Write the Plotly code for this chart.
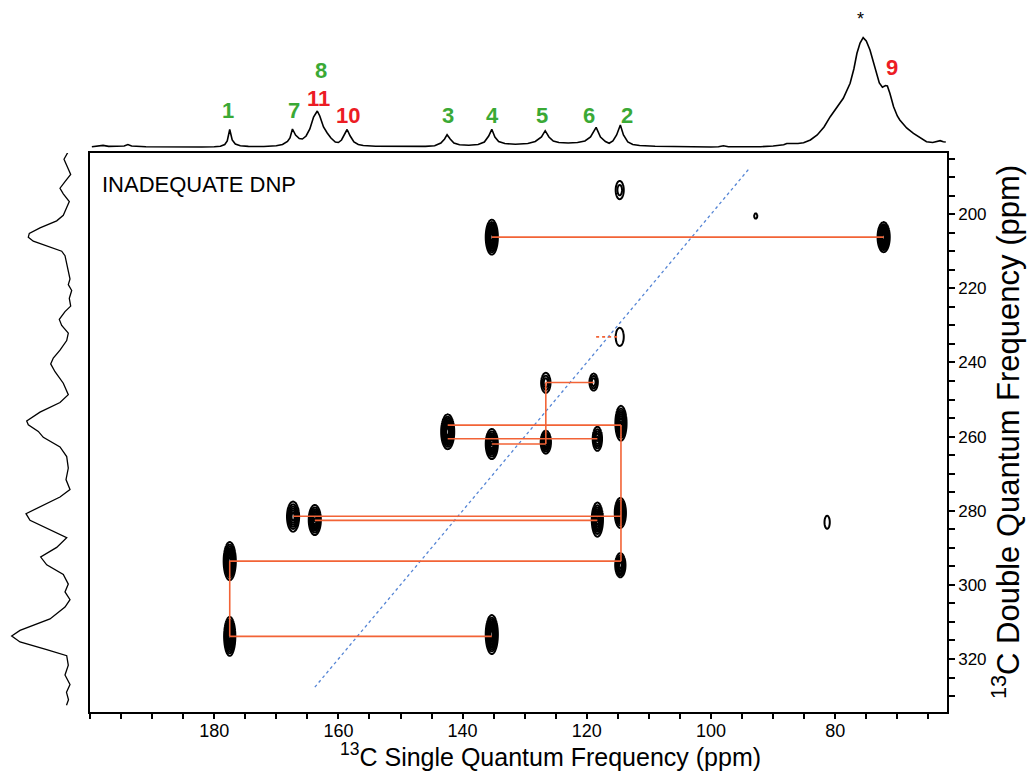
import numpy as np
import plotly.graph_objects as go

W, H = 1027, 773

# ---------------- data ----------------
# 2D cross peaks: single-quantum shift (ppm), double-quantum shift (ppm),
# relative intensity (number of contour levels), outer-contour widths (ppm)
PEAK_SQ = [135.3, 72.2, 114.7, 92.8, 114.7, 126.6, 118.9, 142.4, 135.3, 126.6, 118.3,
           114.5, 167.3, 163.8, 118.3, 114.6, 177.5, 114.6, 177.5, 135.3, 81.3]
PEAK_DQ = [206.2, 206.2, 193.5, 200.5, 233.1, 245.5, 245.3, 258.7, 262.0, 261.5, 260.6,
           256.4, 281.6, 282.5, 282.4, 280.6, 293.6, 294.7, 313.9, 313.4, 283.1]
PEAK_AMP = [8, 8, 2.2, 1.3, 1.5, 3, 3, 8, 6, 5, 4,
            6, 5, 6, 6, 6, 8, 5, 8, 8, 1.5]
PEAK_FWX = [1.95, 1.95, 1.3, 0.5, 1.3, 1.5, 1.35, 2.1, 1.95, 1.65, 1.5,
            1.8, 1.95, 1.95, 1.8, 1.8, 1.95, 1.65, 1.8, 1.95, 0.85]
PEAK_FWY = [9.4, 8.1, 4.9, 1.4, 4.9, 5.4, 4.6, 9.4, 8.1, 6.2, 6.5,
            9.4, 8.1, 8.1, 9.2, 8.1, 10.3, 6.5, 10.5, 10.5, 3.5]

# connectivity lines (SQ start, SQ end, DQ start, DQ end)
LINK_X0 = [135.3, 126.6, 126.6, 142.4, 142.4, 135.3, 114.5, 167.3, 163.8, 177.5, 177.5, 177.5]
LINK_X1 = [72.2, 118.9, 126.6, 114.5, 118.3, 126.6, 114.5, 114.5, 118.3, 114.5, 177.5, 135.3]
LINK_Y0 = [206.2, 245.4, 245.4, 256.9, 260.6, 262.0, 256.9, 281.5, 282.6, 293.6, 293.6, 313.9]
LINK_Y1 = [206.2, 245.4, 262.0, 256.9, 260.6, 262.0, 293.6, 281.5, 282.6, 293.6, 313.9, 313.9]
DOTLINK_X = [118.5, 114.7]
DOTLINK_Y = [233.1, 233.1]

# diagonal (DQ = 2 x SQ)
DIAG_SQ = [94.0, 164.0]

# top 1D spectrum (ppm, intensity)
TOP_PPM = [199.7, 198.8, 197.9, 197.0, 195.5, 194.5, 193.9, 193.3, 191.0, 188.0, 185.0, 182.0,
           180.0, 179.0, 178.3, 177.9, 177.5, 177.1, 176.6, 175.8, 174.5, 172.0, 170.0, 169.0,
           168.2, 167.8, 167.4, 166.9, 166.3, 165.8, 165.2, 164.6, 164.0, 163.4, 163.0, 162.4,
           161.8, 161.2, 160.5, 160.0, 159.5, 159.0, 158.6, 158.1, 157.5, 156.8, 156.0, 154.0,
           150.0, 146.0, 144.5, 143.5, 142.9, 142.5, 142.0, 141.4, 140.5, 139.0, 137.5, 136.5,
           135.8, 135.3, 134.8, 134.2, 133.2, 131.5, 129.5, 128.3, 127.3, 126.7, 126.1, 125.4,
           124.5, 123.0, 121.5, 120.3, 119.4, 118.5, 117.8, 117.0, 116.4, 115.8, 115.2, 114.6,
           114.1, 113.4, 112.6, 111.5, 109.0, 105.0, 100.0, 98.8, 98.0, 97.2, 94.0, 92.0,
           90.0, 88.3, 87.8, 87.0, 86.0, 85.1, 84.0, 82.9, 81.8, 80.8, 79.7, 78.7,
           77.6, 77.0, 76.5, 76.0, 75.5, 75.0, 74.4, 73.9, 73.4, 72.9, 72.4, 71.9,
           71.6, 71.2, 70.6, 70.0, 69.6, 68.5, 67.4, 66.3, 65.3, 64.3, 63.6, 63.1,
           62.6, 62.2]
TOP_INT = [0.3, 0.8, 1.6, 0.6, 0.5, 1.0, 2.5, 1.0, 0.2, 0.0, -0.2, 0.0,
           0.3, 0.8, 2.5, 6.0, 17.5, 7.0, 3.0, 1.2, 0.6, 0.5, 1.2, 2.5,
           5.5, 9.0, 18.0, 12.0, 8.5, 8.0, 11.0, 18.0, 30.0, 36.0, 31.0, 20.0,
           14.0, 9.0, 5.0, 4.5, 7.0, 13.0, 17.5, 11.0, 5.0, 2.5, 1.5, 0.8,
           0.5, 0.6, 1.2, 4.0, 8.0, 12.3, 8.0, 4.0, 2.2, 1.8, 2.5, 5.0,
           11.0, 17.7, 10.0, 5.5, 3.5, 2.8, 3.5, 5.5, 10.0, 16.3, 10.0, 6.0,
           4.5, 4.0, 4.5, 6.0, 10.0, 19.7, 10.0, 5.5, 3.7, 6.0, 12.0, 22.0,
           12.0, 5.0, 2.5, 1.5, 0.8, 0.3, 0.0, 0.3, 1.2, 0.3, 0.0, 0.3,
           1.0, 2.2, 3.5, 3.2, 3.5, 4.3, 7.0, 12.0, 20.0, 30.3, 40.0, 48.7,
           63.7, 78.0, 93.7, 104.0, 109.3, 106.0, 97.0, 85.0, 73.7, 64.0, 59.7, 61.5,
           61.0, 53.7, 40.3, 31.0, 27.0, 19.0, 13.7, 9.0, 5.3, 4.5, 5.5, 6.3,
           5.2, 5.0]

# left 1D projection (DQ ppm, intensity)
LEFT_DQ = [183.1, 185.2, 187.8, 189.3, 191.2, 193.0, 194.5, 196.6, 198.2, 200.3, 201.8, 203.7,
           205.2, 206.2, 207.3, 208.9, 210.0, 211.2, 213.3, 215.4, 217.5, 219.0, 220.6, 222.7,
           224.8, 226.3, 228.4, 230.0, 232.1, 234.1, 236.7, 238.8, 240.4, 242.5, 245.6, 248.7,
           250.8, 253.4, 255.8, 256.8, 258.6, 260.2, 262.8, 265.4, 268.5, 271.6, 274.3, 276.3,
           278.9, 280.8, 282.6, 285.2, 287.3, 289.9, 292.5, 294.6, 297.2, 299.8, 301.9, 304.0,
           306.0, 309.2, 312.3, 313.8, 315.4, 317.5, 319.1, 321.7, 324.3, 326.9, 329.0, 331.0,
           332.5]
LEFT_INT = [-1.3, 3.0, -1.3, -3.7, 2.0, 7.0, 3.7, -2.3, 0.3, 3.7, 10.3, 27.0,
            37.7, 38.7, 33.7, 17.0, 5.3, 2.0, 0.3, -1.3, -3.0, -1.3, -4.7, -2.3,
            -3.7, 2.0, 7.7, 5.3, -1.3, 0.3, 7.0, 13.7, 16.3, 12.0, 3.7, -1.3,
            7.0, 27.0, 40.3, 38.7, 28.7, 23.7, 7.0, 0.3, -1.3, 1.0, -3.0, 7.0,
            27.0, 41.0, 37.0, 17.0, 0.3, 10.3, 26.3, 20.3, 3.7, -1.3, 2.0, -3.0,
            2.0, 17.0, 47.0, 55.3, 47.0, 20.3, 0.3, -1.3, 2.0, -3.0, 0.5, -1.5,
            0.5]

# peak labels on the top spectrum
LAB_TEXT = ["1", "7", "8", "11", "10", "3", "4", "5", "6", "2", "9"]
LAB_PPM = [177.7, 167.2, 162.8, 163.2, 158.5, 142.4, 135.2, 127.2, 119.6, 113.5, 70.9]
LAB_INT = [37, 37, 77, 49, 32, 32, 32, 32, 32, 32, 80]
LAB_COLOR = ["g", "g", "g", "r", "r", "g", "g", "g", "g", "g", "r"]

X_TICKS = [180, 160, 140, 120, 100, 80]
Y_TICKS = [200, 220, 240, 260, 280, 300, 320]

# ---------------- layout geometry (pixels) ----------------
FX0, FX1 = 90, 947      # frame left/right
FY0, FY1 = 153, 712     # frame top/bottom


def px(x):
    return x / W


def py(y):
    return 1 - y / H


GREEN = "#3aa935"
RED = "#ec1c24"
ORANGE = "#f26336"
BLUE = "#5585d5"
FONT = "Liberation Sans, Arial, Helvetica, sans-serif"

fig = go.Figure()

# contours
for sq, dq, amp, fwx, fwy in zip(PEAK_SQ, PEAK_DQ, PEAK_AMP, PEAK_FWX, PEAK_FWY):
    k = np.sqrt(2 * np.log(amp))
    sx = (fwx / 2) / k
    sy = (fwy / 2) / k
    xs = np.linspace(sq - 3.2 * sx - 0.3, sq + 3.2 * sx + 0.3, 45)
    ys = np.linspace(dq - 3.2 * sy - 1, dq + 3.2 * sy + 1, 65)
    X, Y = np.meshgrid(xs, ys)
    Z = amp * np.exp(-((X - sq) ** 2 / (2 * sx ** 2) + (Y - dq) ** 2 / (2 * sy ** 2)))
    fig.add_trace(go.Contour(
        x=xs, y=ys, z=np.round(Z, 4),
        contours=dict(start=1, end=12, size=0.7, coloring="lines"),
        line=dict(width=2.0),
        colorscale=[[0, "black"], [1, "black"]],
        showscale=False, hoverinfo="skip",
        xaxis="x", yaxis="y"))

# diagonal
fig.add_trace(go.Scatter(x=DIAG_SQ, y=[2 * v for v in DIAG_SQ], mode="lines",
                         line=dict(color=BLUE, width=1.3, dash="dot"),
                         hoverinfo="skip", xaxis="x", yaxis="y"))

# connectivity lines
lx, ly = [], []
for a, b, c, d in zip(LINK_X0, LINK_X1, LINK_Y0, LINK_Y1):
    lx += [a, b, None]
    ly += [c, d, None]
fig.add_trace(go.Scatter(x=lx, y=ly, mode="lines", line=dict(color=ORANGE, width=1.6),
                         hoverinfo="skip", xaxis="x", yaxis="y"))
fig.add_trace(go.Scatter(x=DOTLINK_X, y=DOTLINK_Y, mode="lines",
                         line=dict(color=ORANGE, width=1.6, dash="dot"),
                         hoverinfo="skip", xaxis="x", yaxis="y"))

# top spectrum
fig.add_trace(go.Scatter(x=TOP_PPM, y=TOP_INT, mode="lines",
                         line=dict(color="black", width=1.6),
                         hoverinfo="skip", xaxis="x2", yaxis="y2"))
# left projection
fig.add_trace(go.Scatter(x=LEFT_INT, y=LEFT_DQ, mode="lines",
                         line=dict(color="black", width=1.3),
                         hoverinfo="skip", xaxis="x3", yaxis="y3"))

XR = [200.0, 62.0]
YR = [334.3, 183.5]

fig.update_layout(
    width=W, height=H, autosize=False,
    margin=dict(l=0, r=0, t=0, b=0),
    paper_bgcolor="white", plot_bgcolor="rgba(0,0,0,0)",
    showlegend=False,
    xaxis=dict(domain=[px(FX0), px(FX1)], range=XR, anchor="y",
               showline=True, linecolor="black", linewidth=1.6, mirror=True,
               ticks="outside", ticklen=5, tickwidth=1.5, tickcolor="black",
               ticklabelstandoff=-3,
               tickvals=X_TICKS, ticktext=[str(v) for v in X_TICKS],
               tickfont=dict(family=FONT, size=18, color="black"),
               minor=dict(dtick=5, tick0=0, ticks="outside", ticklen=5, tickwidth=1.5,
                          tickcolor="black", showgrid=False),
               showgrid=False, zeroline=False),
    yaxis=dict(domain=[py(FY1), py(FY0)], range=YR, anchor="x", side="right",
               showline=True, linecolor="black", linewidth=1.6, mirror=True,
               ticks="outside", ticklen=6, tickwidth=1.5, tickcolor="black",
               tickvals=Y_TICKS, ticktext=[str(v) for v in Y_TICKS],
               tickfont=dict(family=FONT, size=17, color="black"),
               minor=dict(dtick=5, tick0=0, ticks="outside", ticklen=6, tickwidth=1.5,
                          tickcolor="black", showgrid=False),
               showgrid=False, zeroline=False),
    xaxis2=dict(domain=[px(FX0), px(FX1)], range=XR, anchor="y2", visible=False),
    yaxis2=dict(domain=[py(150), py(8)], range=[-3, 139], anchor="x2", visible=False),
    xaxis3=dict(domain=[0, px(86)], range=[67, -19], anchor="y3", visible=False),
    yaxis3=dict(domain=[py(FY1), py(FY0)], range=YR, anchor="x3", visible=False),
)

ann = []
for t, xv, yv, c in zip(LAB_TEXT, LAB_PPM, LAB_INT, LAB_COLOR):
    ann.append(dict(text="<b>%s</b>" % t, x=xv, y=yv, xref="x2", yref="y2",
                    showarrow=False, xanchor="center", yanchor="middle",
                    font=dict(family=FONT, size=22,
                              color=GREEN if c == "g" else RED)))
ann.append(dict(text="*", x=75.9, y=128, xref="x2", yref="y2", showarrow=False,
                font=dict(family=FONT, size=18, color="black")))
ann.append(dict(text="INADEQUATE DNP", x=px(100), y=py(184), xref="paper", yref="paper",
                xanchor="left", yanchor="middle", showarrow=False,
                font=dict(family=FONT, size=22, color="black")))
ann.append(dict(text="<sup>13</sup>C Single Quantum Frequency (ppm)",
                x=px(550), y=py(773), xref="paper", yref="paper",
                xanchor="center", yanchor="bottom", showarrow=False,
                font=dict(family=FONT, size=25, color="black")))
ann.append(dict(text="<sup>13</sup>C Double Quantum Frequency (ppm)",
                x=px(1006), y=py(432), xref="paper", yref="paper",
                xanchor="center", yanchor="middle", showarrow=False, textangle=-90,
                font=dict(family=FONT, size=31, color="black")))
fig.update_layout(annotations=ann)

fig.write_html("out.html")
